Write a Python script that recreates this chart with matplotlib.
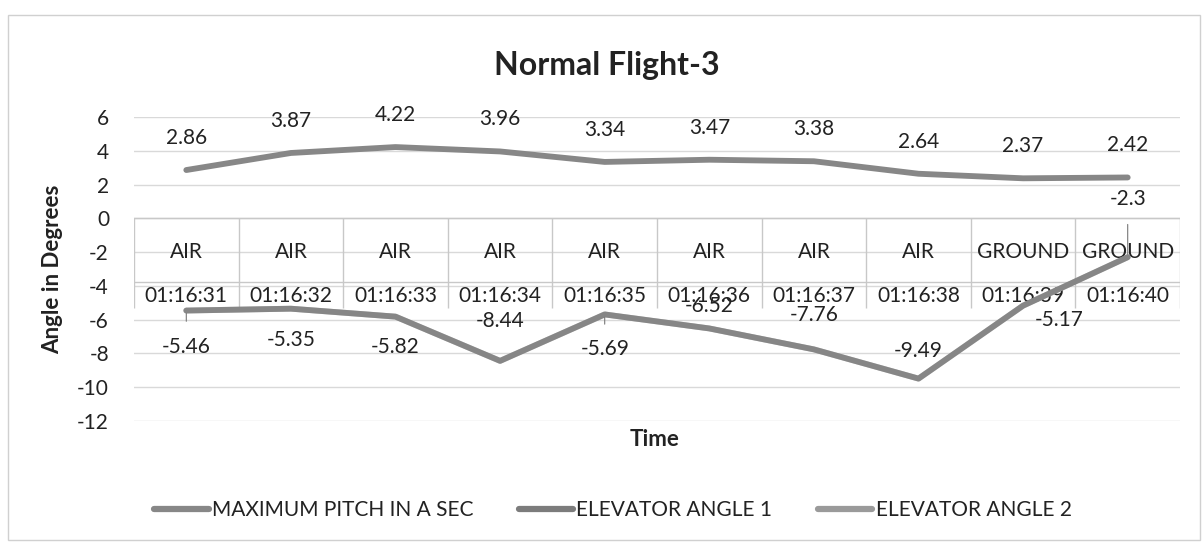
import numpy as np
import matplotlib
matplotlib.use("Agg")
import matplotlib.pyplot as plt
from matplotlib.patches import Rectangle

plt.rcParams["font.family"] = ["Lato", "DejaVu Sans"]
plt.rcParams["axes.unicode_minus"] = False

# date
timpi = ["01:16:31", "01:16:32", "01:16:33", "01:16:34", "01:16:35",
         "01:16:36", "01:16:37", "01:16:38", "01:16:39", "01:16:40"]
faze = ["AIR", "AIR", "AIR", "AIR", "AIR", "AIR", "AIR", "AIR", "GROUND", "GROUND"]
pitch_max = [2.86, 3.87, 4.22, 3.96, 3.34, 3.47, 3.38, 2.64, 2.37, 2.42]
elevator_1 = [-5.46, -5.35, -5.82, -8.44, -5.69, -6.52, -7.76, -9.49, -5.17, -2.3]
elevator_2 = [-5.46, -5.35, -5.82, -8.44, -5.69, -6.52, -7.76, -9.49, -5.17, -2.3]

# pozitii etichete (pixeli fata de punct) pentru seria elevator
offs_elev = [(0, -36), (0, -31), (0, -30), (0, 40), (0, -35),
             (0, 22), (0, 34), (0, 28), (36, -14), (0, 58)]
leader = [True, False, False, False, True, False, False, False, False, True]

C_GRID = "#d9d9d9"
C_PITCH = "#878787"
C_EL1 = "#7c7c7c"
C_EL2 = "#9a9a9a"
FS = 15

fig = plt.figure(figsize=(12.03, 5.42), dpi=100)
ax = fig.add_axes([134 / 1203, 1 - 421 / 542, (1180 - 134) / 1203, (421 - 117) / 542])

x = np.arange(1, len(timpi) + 1)
ax.set_xlim(0.5, len(timpi) + 0.5)
ax.set_ylim(-12, 6)
ax.set_yticks(np.arange(-12, 7, 2))
ax.tick_params(axis="y", length=0, pad=18, labelsize=FS, colors="#222222")
ax.set_xticks([])
for s in ax.spines.values():
    s.set_visible(False)
ax.grid(True, axis="y", color=C_GRID, linewidth=1.0)
ax.set_axisbelow(True)

# axa de categorii pe doua niveluri (stil tabel Excel)
ax.axhline(0, color="#c8c8c8", linewidth=1.0, zorder=1)
ax.axhline(-3.75, color="#c8c8c8", linewidth=1.0, zorder=1)
ax.vlines(np.arange(0.5, len(timpi) + 1), -5.3, 0, color="#c8c8c8", linewidth=1.0, zorder=1)
for xi, f, t in zip(x, faze, timpi):
    ax.text(xi, -2.0, f, ha="center", va="center", fontsize=FS, color="#222222", zorder=2)
    ax.text(xi, -4.6, t, ha="center", va="center", fontsize=FS, color="#222222", zorder=2)

ax.plot(x, pitch_max, color=C_PITCH, linewidth=4.2, solid_capstyle="round",
        label="MAXIMUM PITCH IN A SEC", zorder=3)
ax.plot(x, elevator_1, color=C_EL1, linewidth=4.2, solid_capstyle="round",
        label="ELEVATOR ANGLE 1", zorder=3)
ax.plot(x, elevator_2, color=C_EL2, linewidth=4.2, solid_capstyle="round",
        label="ELEVATOR ANGLE 2", zorder=3, alpha=0.35)

for xi, v in zip(x, pitch_max):
    ax.annotate(f"{v:g}", (xi, v), xytext=(0, 32), textcoords="offset pixels",
                ha="center", va="center", fontsize=FS, color="#222222", zorder=4)

for xi, v, (dx, dy), ld in zip(x, elevator_1, offs_elev, leader):
    ap = dict(arrowstyle="-", color="#777777", linewidth=0.8, shrinkA=9, shrinkB=2) if ld else None
    ax.annotate(f"{v:g}", (xi, v), xytext=(dx, dy), textcoords="offset pixels",
                ha="center", va="center", fontsize=FS, color="#222222", zorder=4,
                arrowprops=ap)

ax.set_ylabel("Angle in Degrees", fontsize=16, fontweight="bold", labelpad=10, color="#222222")
fig.text(655 / 1203, 1 - 440 / 542, "Time", ha="center", va="center",
         fontsize=16, fontweight="bold", color="#222222")
fig.text(607 / 1203, 1 - 65 / 542, "Normal Flight-3", ha="center", va="center",
         fontsize=23, fontweight="bold", color="#222222")

leg = fig.legend(loc="center", bbox_to_anchor=(613 / 1203, 1 - 510 / 542), ncol=3,
                 frameon=False, fontsize=FS, handlelength=2.6, handletextpad=0.15,
                 columnspacing=2.2)
for h in leg.legend_handles:
    h.set_alpha(1)
    h.set_linewidth(4.5)
for t in leg.get_texts():
    t.set_color("#222222")

fig.patches.append(Rectangle((8 / 1203, 2 / 542), 1192 / 1203, 525 / 542,
                             transform=fig.transFigure, fill=False,
                             edgecolor="#d0d0d0", linewidth=1.0))

fig.savefig("out.png", dpi=100)
